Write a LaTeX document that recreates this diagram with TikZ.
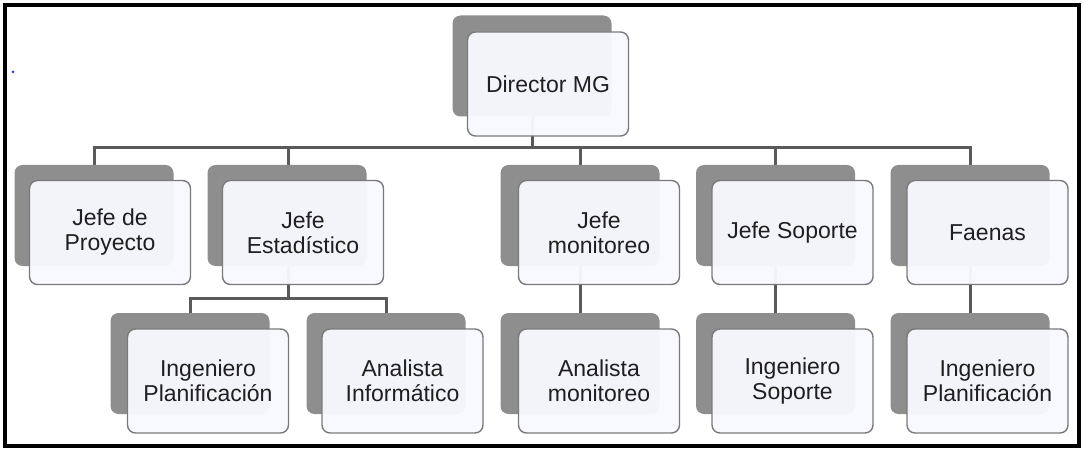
\documentclass[tikz,border=0pt]{standalone}
\usepackage{fontspec}
\setmainfont{Liberation Sans}
\definecolor{lineagris}{HTML}{5A5A5A}
\definecolor{sombragris}{HTML}{8E8E8E}
\definecolor{fondocargo}{HTML}{F8F8FF}
\definecolor{bordecargo}{HTML}{7A7A7A}
\begin{document}
\begin{tikzpicture}[x=1pt, y=-1pt,
		sombra/.style={fill=sombragris, rounded corners=8pt, minimum width=159pt, minimum height=101pt, inner sep=0pt},
		cargo/.style={draw=bordecargo, line width=1.4pt, fill=fondocargo, fill opacity=0.96, text opacity=1, rounded corners=8pt, minimum width=161pt, minimum height=104pt, inner sep=0pt, align=center, text=black!88, font=\fontsize{23}{25}\selectfont},
		linea/.style={draw=lineagris, line width=3pt}]

		\useasboundingbox (0, 0) rectangle (1084, 449);
		\draw[line width=4.5pt](5, 5) rectangle (1079, 446);
		\fill[blue!80](13, 72) circle (1.5);

		\coordinate (barra1) at (532, 148);
		\coordinate (barra2) at (288, 298);

		% conectores
		\draw[linea](94, 166) |- (barra1) -| (970, 166);
		\draw[linea](532, 70) -- (barra1);
		\draw[linea](288, 166) -- (288, 148);
		\draw[linea](580, 166) -- (580, 148);
		\draw[linea](775, 166) -- (775, 148);
		\draw[linea](288, 220) -- (barra2);
		\draw[linea](190, 315) |- (barra2) -| (386, 315);
		\draw[linea](580, 220) -- (580, 315);
		\draw[linea](775, 220) -- (775, 315);
		\draw[linea](970, 220) -- (970, 315);

		\node[sombra] (sdir) at (532, 66) {};
		\node[cargo] (dir) at (548, 84) {Director MG};

		\node[sombra] (sjp) at (94, 215.5) {};
		\node[cargo] (jp) at (110, 232.5) {Jefe de\\Proyecto};
		\node[sombra] (sje) at (287, 215.5) {};
		\node[cargo] (je) at (303, 232.5) {Jefe\\Estadístico};
		\node[sombra] (sjm) at (580, 215.5) {};
		\node[cargo] (jm) at (599, 232.5) {Jefe\\monitoreo};
		\node[sombra] (sjs) at (775.5, 215.5) {};
		\node[cargo] (js) at (792.5, 232.5) {Jefe Soporte};
		\node[sombra] (sfa) at (970, 215.5) {};
		\node[cargo] (fa) at (987.5, 232.5) {Faenas};

		\node[sombra] (sip) at (190, 363.5) {};
		\node[cargo] (ip) at (208, 381) {Ingeniero\\Planificación};
		\node[sombra] (sai) at (386, 363.5) {};
		\node[cargo] (ai) at (402.5, 381) {Analista\\Informático};
		\node[sombra] (sam) at (580, 363.5) {};
		\node[cargo] (am) at (599, 381) {Analista\\monitoreo};
		\node[sombra] (sis) at (775.5, 363.5) {};
		\node[cargo] (is) at (792.5, 381) {Ingeniero\\Soporte};
		\node[sombra] (sip2) at (970, 363.5) {};
		\node[cargo] (ip2) at (987.5, 381) {Ingeniero\\Planificación};

	\end{tikzpicture}
\end{document}
